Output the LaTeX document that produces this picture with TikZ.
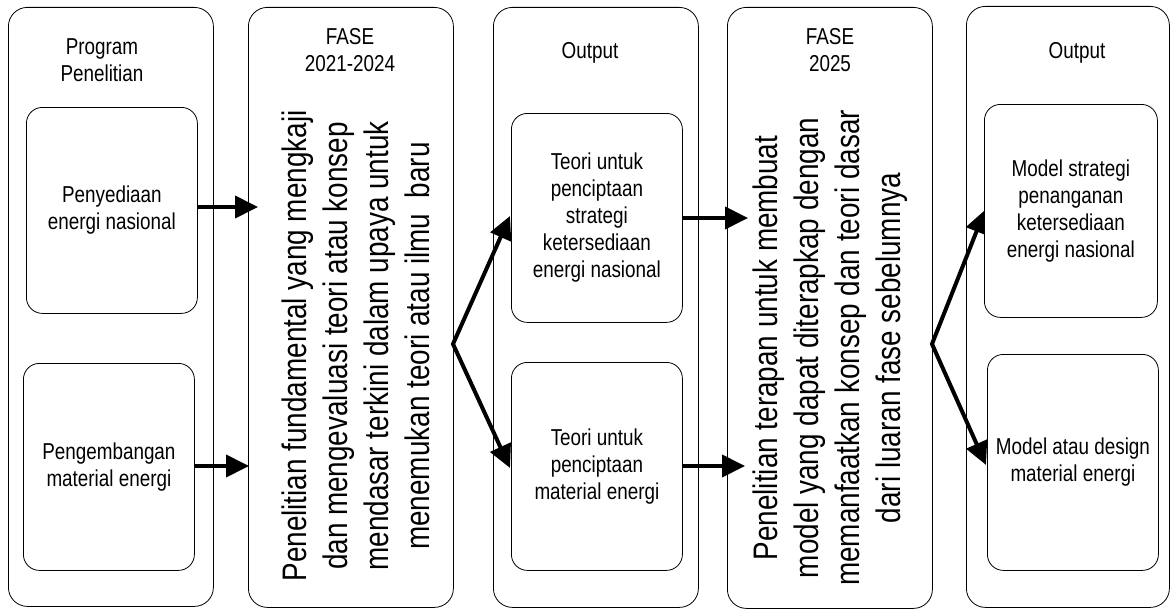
\documentclass[tikz,border=0pt]{standalone}
\usepackage{fontspec}
\newfontfamily\nar[FakeStretch=0.82]{Liberation Sans}
\usetikzlibrary{arrows.meta}
\begin{document}
\begin{tikzpicture}[x=1pt,y=-1pt,
  outer/.style={draw=black, line width=0.8pt, rounded corners=19pt, fill=white, anchor=north west, inner sep=0pt, minimum width=205pt},
  inner/.style={draw=black, line width=0.8pt, rounded corners=16pt, fill=white, anchor=north west, inner sep=0pt, align=center, font=\nar\fontsize{23}{27}\selectfont},
  lbl/.style={font=\nar\fontsize{23}{27}\selectfont, align=center, inner sep=0pt},
  big/.style={font=\nar\fontsize{34}{41}\selectfont, align=center, rotate=90, inner sep=0pt},
  tip/.style={Triangle[length=23pt,width=22pt]},
  arr/.style={line width=4pt, -{Triangle[length=23pt,width=22pt]}},
  fork/.style={line width=4pt, {Triangle[length=23pt,width=22pt]}-{Triangle[length=23pt,width=22pt]}},
]
\useasboundingbox (0,0) rectangle (1170,610);
% outer columns
\node[outer, minimum height=599pt] (b1) at (8,7) {};
\node[outer, minimum height=600pt] (b2) at (248,7) {};
\node[outer, minimum height=600pt] (b3) at (493,7) {};
\node[outer, minimum height=601pt] (b4) at (727,7) {};
\node[outer, minimum height=601pt, minimum width=203pt] (b5) at (966,6) {};
% headers
\node[lbl] (h1) at (102,60.5) {Program\\Penelitian};
\node[lbl] (h2) at (350,50.5) {FASE\\2021-2024};
\node[lbl] (h3) at (590,53) {Output};
\node[lbl] (h4) at (830,50.5) {FASE\\2025};
\node[lbl] (h5) at (1077,53) {Output};
% rotated body texts
\node[big] (t2) at (356,346) {Penelitian fundamental yang mengkaji\\dan mengevaluasi teori atau konsep\\mendasar terkini dalam upaya untuk\\menemukan teori atau ilmu\ \ baru};
\node[big] (t4) at (830,348) {Penelitian terapan untuk membuat\\model yang dapat diterapkap dengan\\memanfaatkan konsep dan teori dasar\\dari luaran fase sebelumnya};
% connector end points
\coordinate (e1) at (258,207);
\coordinate (e2) at (249,466);
\coordinate (e3) at (748,218);
\coordinate (e4) at (745,466);
\coordinate (f1) at (453,344);
\coordinate (t1a) at (510,216);
\coordinate (t1b) at (510,468);
\coordinate (f2) at (932,344);
\coordinate (t2a) at (985,210);
\coordinate (t2b) at (986,465);
% forks (drawn before inner boxes so the boxes cover part of the heads)
\draw[fork] (t1a) -- (f1) -- (t1b);
\draw[fork] (t2a) -- (f2) -- (t2b);
% inner boxes
\node[inner, minimum width=171pt, minimum height=206pt] (b1a) at (26,107) {Penyediaan\\energi nasional};
\node[inner, minimum width=171pt, minimum height=207pt] (b1b) at (23,363) {Pengembangan\\material energi};
\node[inner, minimum width=171pt, minimum height=209pt] (b3a) at (511,113) {Teori untuk\\penciptaan\\strategi\\ketersediaan\\energi nasional};
\node[inner, minimum width=171pt, minimum height=208pt] (b3b) at (511,362) {Teori untuk\\penciptaan\\material energi};
\node[inner, minimum width=173pt, minimum height=213pt] (b5a) at (984,104) {Model strategi\\penanganan\\ketersediaan\\energi nasional};
\node[inner, minimum width=171pt, minimum height=216pt] (b5b) at (987,354) {Model atau design\\material energi};
% straight arrows
\draw[arr] (b1a.east |- e1) -- (e1);
\draw[arr] (b1b.east |- e2) -- (e2);
\draw[arr] (b3a.east |- e3) -- (e3);
\draw[arr] (b3b.east |- e4) -- (e4);
\end{tikzpicture}
\end{document}
